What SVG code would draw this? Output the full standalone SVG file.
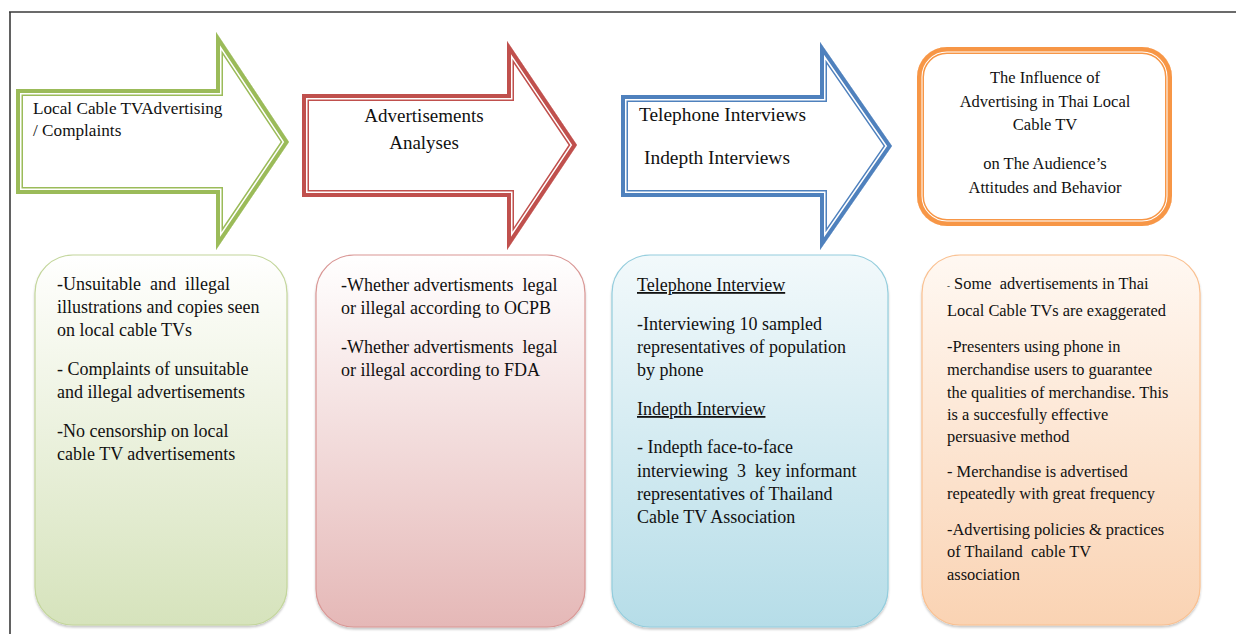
<svg xmlns="http://www.w3.org/2000/svg" xmlns:xlink="http://www.w3.org/1999/xlink" width="1236" height="635" viewBox="0 0 1236 635">
<style>
text{font-family:'Liberation Serif','DejaVu Serif',serif;fill:#111111;}
.b{font-size:18px;}
.o{font-size:16.4px;}
.box{stroke-width:1.2;}
</style>
<defs>
<polygon id="a1" points="16,89 216,89 216,32 289,142 216,250 216,194 16,194"/>
<polygon id="a2" points="302,94 507,94 507,41 577,145 507,250 507,197 302,197"/>
<polygon id="a3" points="621,95 820,95 820,42 892,146 820,250 820,197 621,197"/>
<rect id="g0" x="917" y="47" width="255" height="179" rx="30" ry="30"/>
<clipPath id="c1"><use xlink:href="#a1"/></clipPath>
<clipPath id="c2"><use xlink:href="#a2"/></clipPath>
<clipPath id="c3"><use xlink:href="#a3"/></clipPath>
<clipPath id="c0"><use xlink:href="#g0"/></clipPath>
<linearGradient id="gg" x1="0" y1="0" x2="0" y2="1"><stop offset="0" stop-color="#ffffff"/><stop offset="0.1" stop-color="#fbfcf7"/><stop offset="1" stop-color="#d6e3bc"/></linearGradient>
<linearGradient id="gr" x1="0" y1="0" x2="0" y2="1"><stop offset="0" stop-color="#ffffff"/><stop offset="0.1" stop-color="#fdf8f8"/><stop offset="1" stop-color="#e5b8b7"/></linearGradient>
<linearGradient id="gb" x1="0" y1="0" x2="0" y2="1"><stop offset="0" stop-color="#f2f9fb"/><stop offset="1" stop-color="#b6dde8"/></linearGradient>
<linearGradient id="go" x1="0" y1="0" x2="0" y2="1"><stop offset="0" stop-color="#fff8f2"/><stop offset="1" stop-color="#fad3b3"/></linearGradient>
<filter id="sh" x="-5%" y="-5%" width="110%" height="110%"><feDropShadow dx="0" dy="2" stdDeviation="1.2" flood-color="#000" flood-opacity="0.22"/></filter>
</defs>
<rect x="0" y="0" width="1236" height="635" fill="#ffffff"/>
<g id="frame" stroke="#3a3a3a" stroke-width="1.6" fill="none">
<line x1="9" y1="12" x2="1236" y2="12"/>
<line x1="10" y1="12" x2="10" y2="634"/>
</g>

<g id="arrow-local-cable">
<g clip-path="url(#c1)" stroke-linejoin="miter">
<use xlink:href="#a1" fill="#ffffff" stroke="#9bbb59" stroke-width="14"/>
<use xlink:href="#a1" fill="none" stroke="#ffffff" stroke-width="11"/>
<use xlink:href="#a1" fill="none" stroke="#9bbb59" stroke-width="8"/>
</g>
<text font-size="17.2" x="33" y="114">Local Cable TVAdvertising</text>
<text font-size="17.2" x="33" y="136">/ Complaints</text>
</g>

<g id="arrow-analyses">
<g clip-path="url(#c2)" stroke-linejoin="miter">
<use xlink:href="#a2" fill="#ffffff" stroke="#c0504d" stroke-width="14"/>
<use xlink:href="#a2" fill="none" stroke="#ffffff" stroke-width="11"/>
<use xlink:href="#a2" fill="none" stroke="#c0504d" stroke-width="8"/>
</g>
<text font-size="19" x="424" y="122" text-anchor="middle">Advertisements</text>
<text font-size="19" x="424" y="149" text-anchor="middle">Analyses</text>
</g>

<g id="arrow-interviews">
<g clip-path="url(#c3)" stroke-linejoin="miter">
<use xlink:href="#a3" fill="#ffffff" stroke="#4f81bd" stroke-width="14"/>
<use xlink:href="#a3" fill="none" stroke="#ffffff" stroke-width="11"/>
<use xlink:href="#a3" fill="none" stroke="#4f81bd" stroke-width="8"/>
</g>
<text font-size="19.4" x="639" y="121">Telephone Interviews</text>
<text font-size="19.4" x="644" y="164">Indepth Interviews</text>
</g>

<g id="goal">
<g clip-path="url(#c0)">
<use xlink:href="#g0" fill="#ffffff" stroke="#f79646" stroke-width="14"/>
<use xlink:href="#g0" fill="none" stroke="#ffffff" stroke-width="11"/>
<use xlink:href="#g0" fill="none" stroke="#f79646" stroke-width="9"/>
</g>
<g font-size="16.5" text-anchor="middle">
<text x="1045" y="83">The Influence of</text>
<text x="1045" y="107">Advertising in Thai Local</text>
<text x="1045" y="130">Cable TV</text>
<text x="1045" y="169">on The Audience’s</text>
<text x="1045" y="193">Attitudes and Behavior</text>
</g>
</g>

<g id="box-problems">
<rect class="box" x="35" y="255" width="252" height="370" rx="38" ry="38" fill="url(#gg)" stroke="#c3d69b" filter="url(#sh)"/>
<g class="b">
<text x="57" y="290">-Unsuitable&#160; and&#160; illegal</text>
<text x="57" y="313">illustrations and copies seen</text>
<text x="57" y="336">on local cable TVs</text>
<text x="57" y="375">- Complaints of unsuitable</text>
<text x="57" y="398">and illegal advertisements</text>
<text x="57" y="437">-No censorship on local</text>
<text x="57" y="460">cable TV advertisements</text>
</g>
</g>

<g id="box-analyses">
<rect class="box" x="316" y="255" width="269" height="372" rx="38" ry="38" fill="url(#gr)" stroke="#d99694" filter="url(#sh)"/>
<g class="b">
<text x="341" y="291">-Whether advertisments&#160; legal</text>
<text x="341" y="314">or illegal according to OCPB</text>
<text x="341" y="353">-Whether advertisments&#160; legal</text>
<text x="341" y="376">or illegal according to FDA</text>
</g>
</g>

<g id="box-interviews">
<rect class="box" x="612" y="255" width="276" height="372" rx="38" ry="38" fill="url(#gb)" stroke="#93cddd" filter="url(#sh)"/>
<g class="b">
<text x="637" y="291" text-decoration="underline">Telephone Interview</text>
<text x="637" y="330">-Interviewing 10 sampled</text>
<text x="637" y="353">representatives of population</text>
<text x="637" y="376">by phone</text>
<text x="637" y="415" text-decoration="underline">Indepth Interview</text>
<text x="637" y="453">- Indepth face-to-face</text>
<text x="637" y="477">interviewing&#160; 3&#160; key informant</text>
<text x="637" y="500">representatives of Thailand</text>
<text x="637" y="523">Cable TV Association</text>
</g>
</g>

<g id="box-findings">
<rect class="box" x="922" y="255" width="278" height="370" rx="38" ry="38" fill="url(#go)" stroke="#fac090" filter="url(#sh)"/>
<g class="o">
<text x="947" y="289"><tspan font-size="9">-</tspan> Some&#160; advertisements in Thai</text>
<text x="947" y="316">Local Cable TVs are exaggerated</text>
<text x="947" y="352">-Presenters using phone in</text>
<text x="947" y="375">merchandise users to guarantee</text>
<text x="947" y="398">the qualities of merchandise. This</text>
<text x="947" y="420">is a succesfully effective</text>
<text x="947" y="442">persuasive method</text>
<text x="947" y="477">- Merchandise is advertised</text>
<text x="947" y="499">repeatedly with great frequency</text>
<text x="947" y="535">-Advertising policies &amp; practices</text>
<text x="947" y="557">of Thailand&#160; cable TV</text>
<text x="947" y="580">association</text>
</g>
</g>

<g id="connectors"/>
</svg>
